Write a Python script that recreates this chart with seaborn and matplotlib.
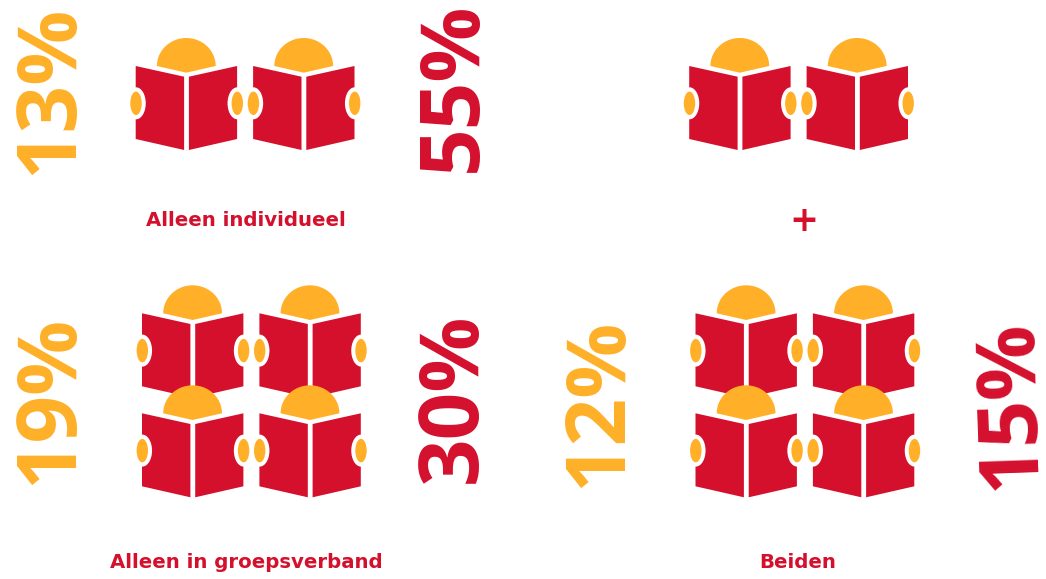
import numpy as np
import pandas as pd
import matplotlib
matplotlib.use("Agg")
import matplotlib.pyplot as plt
import seaborn as sns
from matplotlib.path import Path
from matplotlib.transforms import Affine2D

RED = "#D4102D"
ORANGE = "#FFB028"

# values
panel_names = ["Alleen individueel", "+", "Alleen in groepsverband", "Beiden"]
icon_rows = [1, 1, 2, 2]
orange_pct = ["13%", None, "19%", "12%"]
red_pct = ["55%", None, "30%", "15%"]

# layout in pixels
panel_x = [186.3, 739.8, 192.6, 746.1]
panel_y = [66, 66, 313.3, 313.3]
label_xy = [(246, 220), (804, 221), (246, 563), (798, 562)]
orange_xy = [(51, 90), None, (51, 400), (600, 403)]
red_xy = [(454, 87), None, (454, 398), (1011, 405)]
red_rot = [90, None, 90, 92]
ICON_DX = 117.4
ICON_DY = 100
PX = 0.72


def polygon(points):
    verts = list(points) + [points[0]]
    codes = [Path.MOVETO] + [Path.LINETO] * (len(points) - 1) + [Path.CLOSEPOLY]
    return Path(verts, codes)


def ellipse(cx, cy, w, h):
    return Path.unit_circle().transformed(Affine2D().scale(w / 2, h / 2).translate(cx, cy))


def draw_layer(ax, df, path, color):
    # marker paths get normalised by matplotlib, so size comes from the biggest coordinate
    size = (2 * np.abs(path.vertices).max() * PX) ** 2
    sns.scatterplot(data=df, x="x", y="y", marker=path, s=size, color=color,
                    linewidth=0, edgecolor="none", legend=False, ax=ax)


rows = []
for px, py, n in zip(panel_x, panel_y, icon_rows):
    for r in range(n):
        for c in range(2):
            rows.append({"x": px + c * ICON_DX, "y": py + r * ICON_DY})
icons = pd.DataFrame(rows)

pages = Path.make_compound_path(
    polygon([(-50.6, 0), (-2.2, -10.7), (-2.2, -84), (-50.6, -73)]),
    polygon([(2.6, -10.7), (50.8, 0), (50.8, -73), (2.6, -84)]),
)
rings = Path.make_compound_path(ellipse(-50.3, -37.3, 19.5, 32), ellipse(51, -37.3, 19.5, 32))
hands = Path.make_compound_path(ellipse(-50.3, -37.3, 11.4, 23.5), ellipse(51, -37.3, 11.4, 23.5))
t = np.linspace(0, np.pi, 60)
dome = polygon(list(zip(29.4 * np.cos(t), 28 * np.sin(t))) + [(0, -6.7)])

sns.set_theme(style="white")
plt.rcParams["font.family"] = ["Open Sans", "DejaVu Sans"]

fig = plt.figure(figsize=(10.46, 5.79), dpi=100, facecolor="white")
ax = fig.add_axes([0, 0, 1, 1])

draw_layer(ax, icons, pages, RED)
draw_layer(ax, icons, rings, "white")
draw_layer(ax, icons, hands, ORANGE)
draw_layer(ax, icons, dome, ORANGE)

for name, (x, y) in zip(panel_names, label_xy):
    size = 25 if name == "+" else 14.2
    ax.text(x, y, name, color=RED, fontsize=size, fontweight="bold", ha="center", va="center",
            family="DejaVu Sans")

for pct, xy in zip(orange_pct, orange_xy):
    if pct:
        ax.text(xy[0], xy[1], pct, color=ORANGE, fontsize=60, fontweight="bold", rotation=90,
                ha="center", va="center")
for pct, xy, rot in zip(red_pct, red_xy, red_rot):
    if pct:
        ax.text(xy[0], xy[1], pct, color=RED, fontsize=60, fontweight="bold", rotation=rot,
                ha="center", va="center")

ax.set_xlim(0, 1046)
ax.set_ylim(579, 0)
ax.set_axis_off()
fig.savefig("out.png", dpi=100)
